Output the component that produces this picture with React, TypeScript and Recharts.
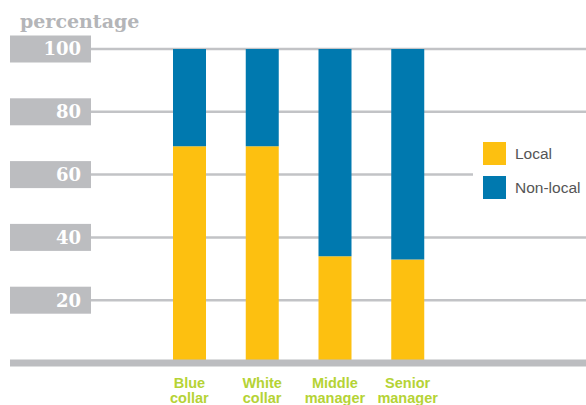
import { BarChart, Bar, XAxis, YAxis, CartesianGrid, Legend, ReferenceLine } from "recharts";

const categories = ["Blue collar", "White collar", "Middle manager", "Senior manager"];
const localShare = [69, 69, 34, 33];
const nonLocalShare = [31, 31, 66, 67];
const yTicks = [0, 20, 40, 60, 80, 100];

const YELLOW = "#fdc010";
const BLUE = "#0079af";
const GREEN = "#b5d335";
const GRAY = "#bcbdc0";
const GRID = "#c2c3c6";

const data = categories.map((name, i) => ({
  name,
  local: localShare[i],
  nonLocal: nonLocalShare[i],
}));

const YTick = (props: any) => {
  const { y, payload } = props;
  if (payload.value === 0) {
    return <rect x={10} y={y - 3.5} width={81} height={7} fill={GRAY} />;
  }
  return (
    <g>
      <rect x={10} y={y - 13.5} width={81} height={27} fill={GRAY} />
      <text
        x={81}
        y={y}
        dy="0.36em"
        textAnchor="end"
        fill="#fff"
        fontFamily="'DejaVu Serif', serif"
        fontWeight="bold"
        fontSize={18}
      >
        {payload.value}
      </text>
    </g>
  );
};

const XTick = (props: any) => {
  const { x, y, payload } = props;
  const lines = String(payload.value).split(" ");
  return (
    <text
      x={x}
      y={y}
      textAnchor="middle"
      fill={GREEN}
      fontFamily="'Liberation Sans', Arial, sans-serif"
      fontWeight="bold"
      fontSize={14.5}
    >
      {lines.map((l, i) => (
        <tspan key={i} x={x} dy={i === 0 ? 17 : 15}>
          {l}
        </tspan>
      ))}
    </text>
  );
};

const LegendBox = (props: any) => {
  const items = props.payload || [];
  return (
    <div style={{ background: "#fff", padding: "7px 0 8px 10px" }}>
      {items.map((it: any, i: number) => (
        <div
          key={i}
          style={{ display: "flex", alignItems: "center", height: 23, marginBottom: i === items.length - 1 ? 0 : 11 }}
        >
          <div style={{ width: 23, height: 23, background: it.color, marginRight: 9 }} />
          <span
            style={{
              fontFamily: "'Liberation Sans', Arial, sans-serif",
              fontSize: 15.5,
              color: "#555",
            }}
          >
            {it.value}
          </span>
        </div>
      ))}
    </div>
  );
};

export default function App() {
  return (
    <div style={{ position: "absolute", left: 0, top: 0, width: 586, height: 405, background: "#fff" }}>
      <div
        style={{
          position: "absolute",
          left: 20,
          top: 11,
          fontFamily: "'DejaVu Serif', serif",
          fontWeight: "bold",
          fontSize: 19,
          lineHeight: "20px",
          color: "#b4b5b8",
          zIndex: 2,
        }}
      >
        percentage
      </div>
      <BarChart width={586} height={405} data={data} margin={{ top: 49, right: 0, bottom: 0, left: 10 }}>
        <CartesianGrid vertical={false} stroke={GRID} strokeWidth={2.5} />
        <XAxis
          dataKey="name"
          height={42}
          axisLine={false}
          tickLine={false}
          padding={{ left: 62, right: 142 }}
          tick={<XTick />}
          interval={0}
        />
        <YAxis
          width={81}
          domain={[0, 100]}
          ticks={yTicks}
          interval={0}
          axisLine={false}
          tickLine={false}
          tick={<YTick />}
        />
        <Legend
          layout="vertical"
          align="center"
          verticalAlign="middle"
          content={<LegendBox />}
          wrapperStyle={{ left: 473, top: 135, width: 113 }}
        />
        <Bar dataKey="local" name="Local" stackId="a" fill={YELLOW} barSize={33} isAnimationActive={false} />
        <Bar dataKey="nonLocal" name="Non-local" stackId="a" fill={BLUE} barSize={33} isAnimationActive={false} />
        <ReferenceLine y={0} stroke={GRAY} strokeWidth={7} />
      </BarChart>
    </div>
  );
}
